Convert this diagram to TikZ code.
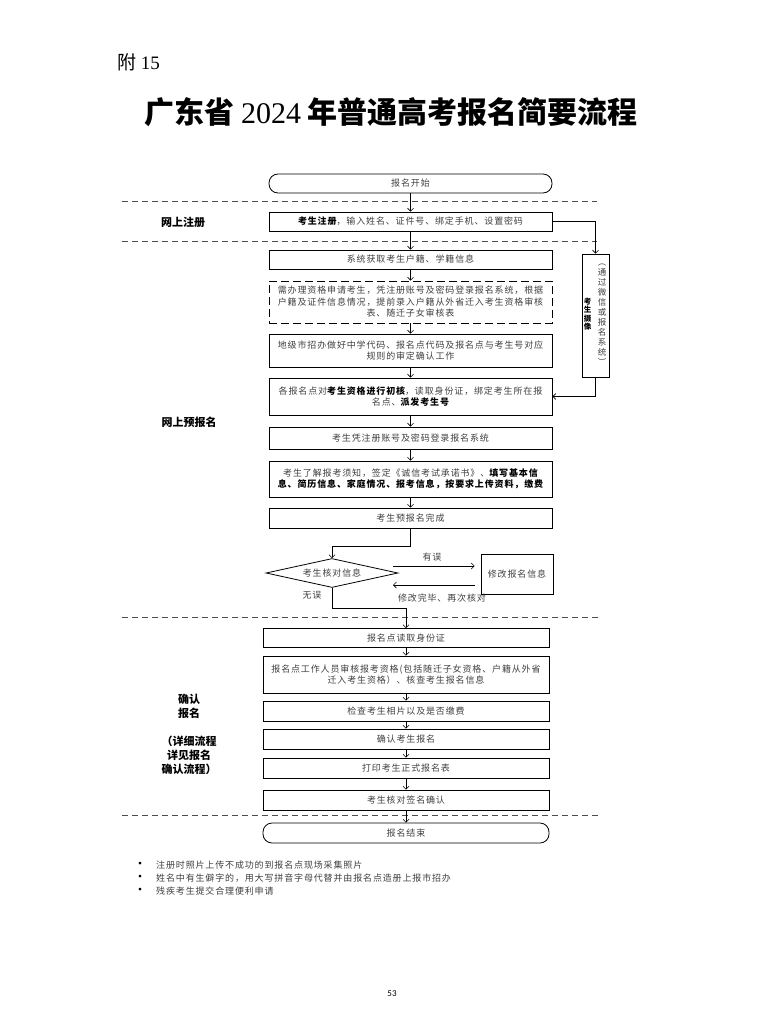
\documentclass[tikz,border=0pt]{standalone}
\usepackage{fontspec}
\setmainfont{Liberation Serif}
\newfontfamily\cjk[LetterSpace=9.5]{Noto Sans CJK SC}
\newfontfamily\cjkhei{Noto Sans CJK SC}
\newfontfamily\pagefont{Carlito}
\usetikzlibrary{arrows.meta,shapes.geometric}
\newcommand{\keytext}[1]{{\bfseries\color{black}#1}}
\tikzset{
	flowbox/.style={draw, line width=0.8pt, inner sep=0pt, align=center, text=black!75, font=\cjk\fontsize{9}{11.5}\selectfont},
	upbox/.style={flowbox, minimum width=283pt},
	lowbox/.style={flowbox, minimum width=286pt},
	termbox/.style={rounded corners=9pt},
	flowarrow/.style={-{Straight Barb[length=3pt,width=6pt]}, line width=0.6pt},
	partline/.style={dash pattern=on 6pt off 4pt, line width=0.7pt, draw=black!70},
	partlabel/.style={font=\cjkhei\bfseries\fontsize{11}{14}\selectfont, align=center},
	smalltext/.style={text=black!75, font=\cjk\fontsize{9}{11}\selectfont},
	notedot/.style={font=\cjkhei\fontsize{13}{13}\selectfont, inner sep=0pt},
}

\begin{document}
\begin{tikzpicture}[x=1pt, y=-1pt]
		%%%%% START %%%%%
		
		\path[fill=white, use as bounding box] (0, 0) rectangle (783, 1030);
		
		\node[anchor=west, font=\cjkhei\fontsize{19}{22}\selectfont] (appendix) at (114, 62) {附 {\rmfamily 15}};
		\node[font=\cjkhei\bfseries\fontsize{30}{34}\selectfont] (title) at (391, 112) {广东省 {\rmfamily\mdseries 2024} 年普通高考报名简要流程};
		
		\draw[partline] (122, 201) -- (597, 201);
		\draw[partline] (122, 241) -- (597, 241);
		\draw[partline] (122, 617) -- (599, 617);
		\draw[partline] (122, 815) -- (599, 815);
		
		\node[partlabel] (regpart) at (183, 222) {网上注册};
		\node[partlabel] (prepart) at (189, 422) {网上预报名};
		\node[partlabel] (confpart) at (189, 734) {确认\\报名\\ \\（详细流程\\详见报名\\确认流程）};
		
		\node[upbox, termbox, minimum height=19pt] (start) at (410.5, 183.5) {报名开始};
		\node[upbox, minimum height=19pt] (reg) at (410.5, 221.5) {\keytext{考生注册}，输入姓名、证件号、绑定手机、设置密码};
		\node[upbox, minimum height=19pt] (sys) at (410.5, 259.5) {系统获取考生户籍、学籍信息};
		\node[upbox, dash pattern=on 8pt off 4pt, minimum height=42pt] (apply) at (410.5, 302) {需办理资格申请考生，凭注册账号及密码登录报名系统，根据\\户籍及证件信息情况，提前录入户籍从外省迁入考生资格审核\\表、随迁子女审核表};
		\node[upbox, minimum height=33pt] (city) at (410.5, 350.5) {地级市招办做好中学代码、报名点代码及报名点与考生号对应\\规则的审定确认工作};
		\node[upbox, minimum height=37pt] (check) at (410.5, 396.5) {各报名点对\keytext{考生资格进行初核}，读取身份证，绑定考生所在报\\名点、\keytext{派发考生号}};
		\node[upbox, minimum height=22pt] (login) at (410.5, 438) {考生凭注册账号及密码登录报名系统};
		\node[upbox, minimum height=36pt] (fill) at (410.5, 479) {考生了解报考须知，签定《诚信考试承诺书》、\keytext{填写基本信}\\\keytext{息、简历信息、家庭情况、报考信息，按要求上传资料，缴费}};
		\node[upbox, minimum height=20pt] (done) at (410.5, 518) {考生预报名完成};
		
		\node[draw, line width=0.8pt, minimum width=27pt, minimum height=123pt] (side) at (595.5, 315.5) {};
		\node[font=\cjkhei\bfseries\fontsize{7.5}{8.5}\selectfont, align=center] (sidekey) at (587.5, 314) {考\\生\\摄\\像};
		\node[text=black!75, font=\cjkhei\fontsize{8.5}{10}\selectfont, align=center] (sidenote) at (602, 315) {︵\\通\\过\\微\\信\\或\\报\\名\\系\\统\\︶};
		
		\node[draw, diamond, line width=0.8pt, inner sep=0pt, aspect=4.5, minimum width=132pt, minimum height=29pt, text=black!75, font=\cjk\fontsize{9}{11}\selectfont] (dia) at (332, 573) {考生核对信息};
		\node[flowbox, minimum width=72pt, minimum height=40pt] (fix) at (517, 574) {修改报名信息};
		\coordinate (wrongout) at (393, 566);
		\coordinate (backin) at (393, 585);
		\node[smalltext] (wrong) at (432, 557) {有误};
		\node[smalltext] (again) at (442, 598) {修改完毕、再次核对};
		\node[smalltext] (right) at (312, 595) {无误};
		
		\node[lowbox, minimum height=19pt] (idread) at (406, 638) {报名点读取身份证};
		\node[lowbox, minimum height=37pt] (staff) at (406, 674.5) {报名点工作人员审核报考资格(包括随迁子女资格、户籍从外省\\迁入考生资格）、核查考生报名信息};
		\node[lowbox, minimum height=20pt] (photo) at (406, 711) {检查考生相片以及是否缴费};
		\node[lowbox, minimum height=20pt] (confirm) at (406, 739) {确认考生报名};
		\node[lowbox, minimum height=20pt] (print) at (406, 768) {打印考生正式报名表};
		\node[lowbox, minimum height=20pt] (sign) at (406, 800) {考生核对签名确认};
		\node[lowbox, termbox, minimum height=20pt] (end) at (406, 833) {报名结束};
		
		\draw[flowarrow] (start) -- (reg);
		\draw[flowarrow] (reg) -- (sys);
		\draw[flowarrow] (sys) -- (apply);
		\draw[flowarrow] (apply) -- (city);
		\draw[flowarrow] (city) -- (check);
		\draw[flowarrow] (check) -- (login);
		\draw[flowarrow] (login) -- (fill);
		\draw[flowarrow] (fill) -- (done);
		\draw[flowarrow] (reg.east) -| (side.north);
		\draw[flowarrow] (side.south) |- (check.east);
		
		\draw[flowarrow] (done.south) -- ++(0, 18) -| (dia.north);
		\draw[flowarrow, shorten >=6pt] (wrongout) -- (wrongout -| fix.west);
		\draw[flowarrow, shorten <=6pt] (backin -| fix.west) -- (backin);
		\draw[flowarrow] (dia.south) -- ++(0, 20) -| (idread.north);
		
		\draw[flowarrow] (idread) -- (staff);
		\draw[flowarrow] (staff) -- (photo);
		\draw[flowarrow] (photo) -- (confirm);
		\draw[flowarrow] (confirm) -- (print);
		\draw[flowarrow] (print) -- (sign);
		\draw[flowarrow] (sign) -- (end);
		
		\node[notedot] (dot1) at (140, 865) {•};
		\node[notedot] (dot2) at (140, 878) {•};
		\node[notedot] (dot3) at (140, 891) {•};
		\node[smalltext, anchor=west, inner sep=0pt] (note1) at (156, 865) {注册时照片上传不成功的到报名点现场采集照片};
		\node[smalltext, anchor=west, inner sep=0pt] (note2) at (156, 878) {姓名中有生僻字的，用大写拼音字母代替并由报名点造册上报市招办};
		\node[smalltext, anchor=west, inner sep=0pt] (note3) at (156, 891) {残疾考生提交合理便利申请};
		
		\node[font=\pagefont\fontsize{9}{11}\selectfont] (pagenum) at (392, 994) {53};
		
		%%%%% END %%%%%
\end{tikzpicture}
\end{document}
